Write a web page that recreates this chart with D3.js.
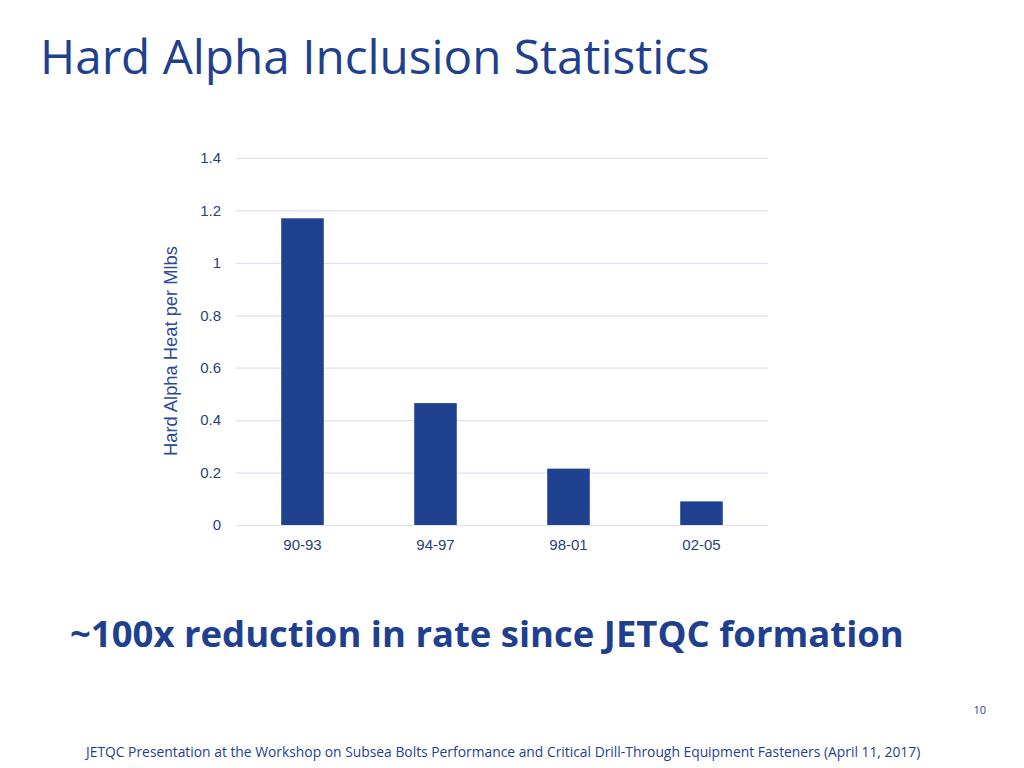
<!DOCTYPE html>
<html>
<head>
<meta charset="utf-8">
<script src="https://cdn.jsdelivr.net/npm/d3@7"></script>
<style>
  html, body { margin: 0; padding: 0; background: #ffffff; }
  svg { display: block; }
</style>
</head>
<body>
<svg id="chart" width="1024" height="768"></svg>
<script>
const categories = ["90-93", "94-97", "98-01", "02-05"];
const values = [1.17, 0.465, 0.215, 0.09];
const yTicks = [0, 0.2, 0.4, 0.6, 0.8, 1, 1.2, 1.4];
const titleText = "Hard Alpha Inclusion Statistics";
const yLabel = "Hard Alpha Heat per Mlbs";
const headline = "~100x reduction in rate since JETQC formation";
const footer = "JETQC Presentation at the Workshop on Subsea Bolts Performance and Critical Drill-Through Equipment Fasteners (April 11, 2017)";
const pageNum = "10";

const svg = d3.select("#chart");
const navy = "#1f3f8f";
const barColor = "#1e4290";
const tickColor = "#2a3f7a";
const gridColor = "#dfe1f0";

const plot = { left: 236, right: 768, top: 158, bottom: 525 };

const x = d3.scaleBand().domain(categories)
  .range([plot.left, plot.right])
  .paddingInner(0.68).paddingOuter(0.34);
const y = d3.scaleLinear().domain([0, 1.4]).range([plot.bottom, plot.top]);

function fitText(sel, target) {
  const w = sel.node().getComputedTextLength();
  const fs = parseFloat(sel.style("font-size"));
  sel.style("font-size", (fs * target / w) + "px");
}

// gridlines
const yGrid = d3.axisLeft(y).tickValues(yTicks)
  .tickSize(-(plot.right - plot.left)).tickFormat("");
svg.append("g").attr("transform", `translate(${plot.left},0)`).call(yGrid)
  .call(g => g.select(".domain").remove())
  .call(g => g.selectAll("line").attr("stroke", gridColor).attr("stroke-width", 1.2));

// y tick labels
const yAxis = d3.axisLeft(y).tickValues(yTicks).tickSize(0).tickPadding(15)
  .tickFormat(d => d3.format("")(+d.toFixed(1)));
svg.append("g").attr("transform", `translate(${plot.left},0)`).call(yAxis)
  .call(g => g.select(".domain").remove())
  .call(g => g.selectAll("text").attr("fill", tickColor)
      .style("font-family", "Liberation Sans, Arial, sans-serif").style("font-size", "15px"));

// bars
svg.append("g").selectAll("rect").data(values).join("rect")
  .attr("x", (d, i) => x(categories[i]))
  .attr("width", x.bandwidth())
  .attr("y", d => y(d))
  .attr("height", d => y(0) - y(d))
  .attr("fill", barColor);

// x axis labels
const xAxis = d3.axisBottom(x).tickSize(0).tickPadding(14);
svg.append("g").attr("transform", `translate(0,${plot.bottom})`).call(xAxis)
  .call(g => g.select(".domain").remove())
  .call(g => g.selectAll("text").attr("fill", tickColor)
      .style("font-family", "Liberation Sans, Arial, sans-serif").style("font-size", "15px"));

// y label
const yl = svg.append("text")
  .attr("transform", `translate(177,351) rotate(-90)`)
  .attr("text-anchor", "middle")
  .attr("fill", "#2a4a9a")
  .style("font-family", "Liberation Sans, Arial, sans-serif")
  .style("font-size", "17px")
  .text(yLabel);
fitText(yl, 210);

const title = svg.append("text")
  .attr("x", 40).attr("y", 74)
  .attr("fill", navy)
  .style("font-family", "Open Sans, sans-serif")
  .style("font-size", "44px")
  .text(titleText);
fitText(title, 670);

const head = svg.append("text")
  .attr("x", 70).attr("y", 647)
  .attr("fill", navy)
  .style("font-family", "Open Sans, sans-serif")
  .style("font-weight", "700")
  .style("font-size", "36px")
  .text(headline);
fitText(head, 834);

svg.append("text")
  .attr("x", 986).attr("y", 714)
  .attr("text-anchor", "end")
  .attr("fill", navy)
  .style("font-family", "Open Sans, sans-serif")
  .style("font-size", "11px")
  .text(pageNum);

const foot = svg.append("text")
  .attr("x", 86).attr("y", 757)
  .attr("fill", navy)
  .style("font-family", "Open Sans, sans-serif")
  .style("font-size", "14px")
  .text(footer);
fitText(foot, 835);
</script>
</body>
</html>
